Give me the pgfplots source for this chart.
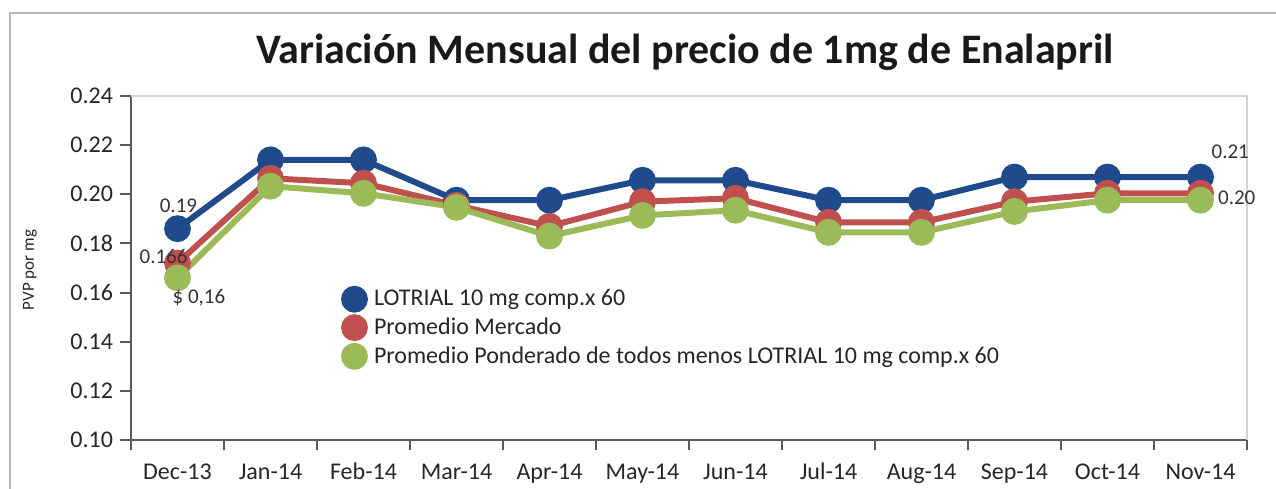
\documentclass[border=0pt]{standalone}
\usepackage{pgfplots}
\pgfplotsset{compat=1.18}
\usepackage{fontspec}
\setmainfont{Carlito}
\definecolor{cblue}{HTML}{1F4B8C}
\definecolor{cred}{HTML}{C0504D}
\definecolor{cgreen}{HTML}{9BBB59}
\definecolor{axgray}{HTML}{595959}
\begin{document}
\begin{tikzpicture}
\path[use as bounding box] (0,0) rectangle (638pt,244pt);
\draw[gray!55, line width=1.2pt] (5pt,-5pt) -- (5pt,237.5pt) -- (645pt,237.5pt);
\node[font=\fontsize{21}{23}\selectfont\bfseries, text=black!90] at (342.5pt,218pt) {Variación Mensual del precio de 1mg de Enalapril};
\node[rotate=90, font=\fontsize{8.5}{10}\selectfont, text=black!85] at (15pt,109pt) {PVP por mg};
\begin{axis}[
  at={(65.5pt,24pt)}, anchor=south west,
  scale only axis, width=558pt, height=172pt,
  xmin=-0.5, xmax=11.5, ymin=0.10, ymax=0.24,
  axis x line*=bottom, axis y line*=left,
  axis line style={draw=axgray, line width=1.1pt, -},
  xtick={0,...,11},
  xticklabels={Dec-13,Jan-14,Feb-14,Mar-14,Apr-14,May-14,Jun-14,Jul-14,Aug-14,Sep-14,Oct-14,Nov-14},
  minor xtick={-0.5,0.5,...,11.5},
  x tick style={draw=none},
  minor x tick style={draw=axgray, line width=1pt},
  ytick={0.10,0.12,...,0.241},
  y tick style={draw=axgray, line width=1pt},
  tick align=outside,
  major tick length=5.5pt, minor tick length=5pt,
  y tick label style={/pgf/number format/.cd, fixed, fixed zerofill, precision=2, assume math mode=true},
  tick label style={font=\fontsize{12}{14}\selectfont, text=black!85},
  xticklabel style={yshift=-3pt, text height=1.6ex, text depth=0.35ex},
  legend style={at={(rel axis cs:0.186,0.45)}, anchor=north west, draw=none, fill=none,
    font=\fontsize{12}{14}\selectfont, row sep=0.5pt, inner sep=0pt, text=black!85},
  legend cell align=left,
  legend image code/.code={\draw[mark repeat=2, mark phase=2, #1] plot coordinates {(0cm,0cm) (0.22cm,0cm) (0.44cm,0cm)};},
  clip=false,
  every axis plot/.append style={line width=3pt, mark=*, mark size=5.2pt},
]
\draw[gray!35, line width=0.6pt] (rel axis cs:0,1) -- (rel axis cs:1,1) -- (rel axis cs:1,0);
\addplot[color=cblue, mark options={fill=cblue}] coordinates {
(0,0.186) (1,0.214) (2,0.214) (3,0.1976) (4,0.1976) (5,0.2057) (6,0.2057) (7,0.1976) (8,0.1976) (9,0.207) (10,0.207) (11,0.207)};
\addlegendentry{LOTRIAL 10 mg comp.x 60}
\addplot[color=cred, mark options={fill=cred}] coordinates {
(0,0.172) (1,0.2065) (2,0.2045) (3,0.1955) (4,0.187) (5,0.197) (6,0.1984) (7,0.1886) (8,0.1886) (9,0.197) (10,0.2004) (11,0.2004)};
\addlegendentry{Promedio Mercado}
\addplot[color=cgreen, mark options={fill=cgreen}] coordinates {
(0,0.166) (1,0.2033) (2,0.2004) (3,0.1947) (4,0.183) (5,0.1914) (6,0.1935) (7,0.1845) (8,0.1845) (9,0.193) (10,0.1976) (11,0.1976)};
\addlegendentry{Promedio Ponderado de todos menos LOTRIAL 10 mg comp.x 60}
\coordinate (La) at (axis cs:0.01,0.1955);
\coordinate (Lb) at (axis cs:-0.15,0.1745);
\coordinate (Lc) at (axis cs:0.23,0.158);
\coordinate (Ld) at (axis cs:11.32,0.2172);
\coordinate (Le) at (axis cs:11.39,0.1985);
\end{axis}
\begin{scope}[every node/.style={font=\fontsize{10.5}{12}\selectfont, text=black!80}]
\node at (La) {0.19};
\node at (Lb) {0.166};
\node at (Lc) {\$ 0,16};
\node at (Ld) {0.21};
\node at (Le) {0.20};
\end{scope}
\end{tikzpicture}
\end{document}
